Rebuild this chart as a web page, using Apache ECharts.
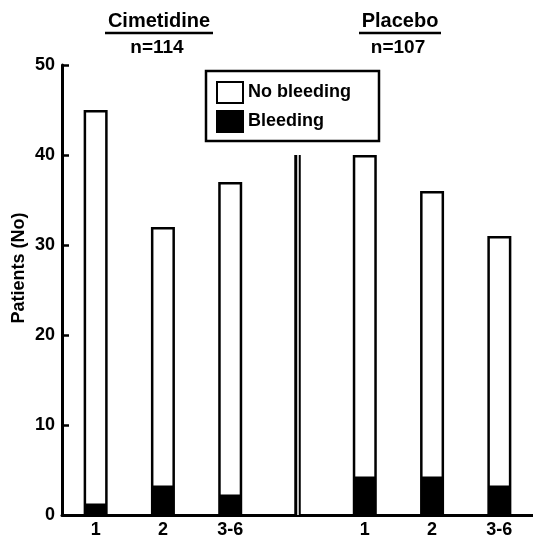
<!DOCTYPE html>
<html>
<head>
<meta charset="utf-8">
<script src="https://cdn.jsdelivr.net/npm/echarts@6/dist/echarts.min.js"></script>
<style>
html,body{margin:0;padding:0;background:#fff;}
#chart{width:533px;height:539px;}
</style>
</head>
<body>
<div id="chart"></div>
<script>
// Data
var categories = ['1', '2', '3-6', '', '1', '2', '3-6'];
var bleeding   = [1, 3, 2, null, 4, 4, 3];
var noBleeding = [44, 29, 35, null, 36, 32, 28];
var yTicks = [0, 10, 20, 30, 40, 50];
var groupNames = ['Cimetidine', 'Placebo'];
var groupN = ['n=114', 'n=107'];
var separatorIndex = 3;
var separatorTop = 40;

var FONT = '"Liberation Sans", Arial, sans-serif';
var chart = echarts.init(document.getElementById('chart'), null, {renderer: 'canvas'});

var option = {
  animation: false,
  backgroundColor: '#fff',
  grid: {left: 62, top: 65, width: 472, height: 451, containLabel: false},
  legend: {
    data: ['No bleeding', 'Bleeding'],
    orient: 'vertical',
    left: 206, top: 71,
    borderColor: '#000', borderWidth: 2.5,
    padding: [10, 28, 8, 10],
    itemWidth: 26, itemHeight: 21, itemGap: 6,
    icon: 'rect',
    selectedMode: false,
    textStyle: {fontFamily: FONT, fontWeight: 'bold', fontSize: 18, color: '#000', padding: [0, 0, 0, 0]}
  },
  xAxis: {
    type: 'category',
    data: categories,
    axisLine: {lineStyle: {color: '#000', width: 3}},
    axisTick: {show: false},
    axisLabel: {fontFamily: FONT, fontWeight: 'bold', fontSize: 18, color: '#000', margin: 6, interval: 0}
  },
  yAxis: {
    type: 'value',
    min: yTicks[0], max: yTicks[yTicks.length - 1], interval: 10,
    axisLine: {show: true, lineStyle: {color: '#000', width: 3}},
    axisTick: {show: true, inside: true, length: 7, lineStyle: {color: '#000', width: 2.5}},
    splitLine: {show: false},
    axisLabel: {fontFamily: FONT, fontWeight: 'bold', fontSize: 18, color: '#000', margin: 7}
  },
  series: [
    {
      name: 'Bleeding', type: 'bar', stack: 'total', barWidth: 24,
      data: bleeding,
      itemStyle: {color: '#000', borderColor: '#000', borderWidth: 2.5},
      markLine: {
        silent: true, symbol: 'none', label: {show: false},
        data: [
          [{coord: [separatorIndex, 0], lineStyle: {color: '#000', width: 6.5, type: 'solid'}},
           {coord: [separatorIndex, separatorTop]}]
        ]
      }
    },
    {
      name: 'No bleeding', type: 'bar', stack: 'total', barWidth: 24,
      data: noBleeding,
      itemStyle: {color: '#fff', borderColor: '#000', borderWidth: 2.5},
      markLine: {
        silent: true, symbol: 'none', label: {show: false},
        data: [
          [{coord: [separatorIndex, 0], lineStyle: {color: '#fff', width: 1.5, type: 'solid'}},
           {coord: [separatorIndex, separatorTop]}]
        ]
      }
    }
  ],
  graphic: [
    {type: 'text', left: 'center', style: {}, invisible: true},
    {type: 'text', x: 159, y: 21, style: {text: groupNames[0], font: 'bold 20px ' + FONT, fill: '#000', textAlign: 'center', textVerticalAlign: 'middle'}},
    {type: 'line', shape: {x1: 105, y1: 33, x2: 213, y2: 33}, style: {stroke: '#000', lineWidth: 2.5}},
    {type: 'text', x: 157, y: 48, style: {text: groupN[0], font: 'bold 19px ' + FONT, fill: '#000', textAlign: 'center', textVerticalAlign: 'middle'}},
    {type: 'text', x: 400, y: 21, style: {text: groupNames[1], font: 'bold 20px ' + FONT, fill: '#000', textAlign: 'center', textVerticalAlign: 'middle'}},
    {type: 'line', shape: {x1: 359, y1: 33, x2: 441, y2: 33}, style: {stroke: '#000', lineWidth: 2.5}},
    {type: 'text', x: 398, y: 48, style: {text: groupN[1], font: 'bold 19px ' + FONT, fill: '#000', textAlign: 'center', textVerticalAlign: 'middle'}},
    {type: 'text', x: 19, y: 268, rotation: Math.PI / 2, style: {text: 'Patients (No)', font: 'bold 18px ' + FONT, fill: '#000', textAlign: 'center', textVerticalAlign: 'middle'}}
  ]
};
chart.setOption(option);
</script>
</body>
</html>
